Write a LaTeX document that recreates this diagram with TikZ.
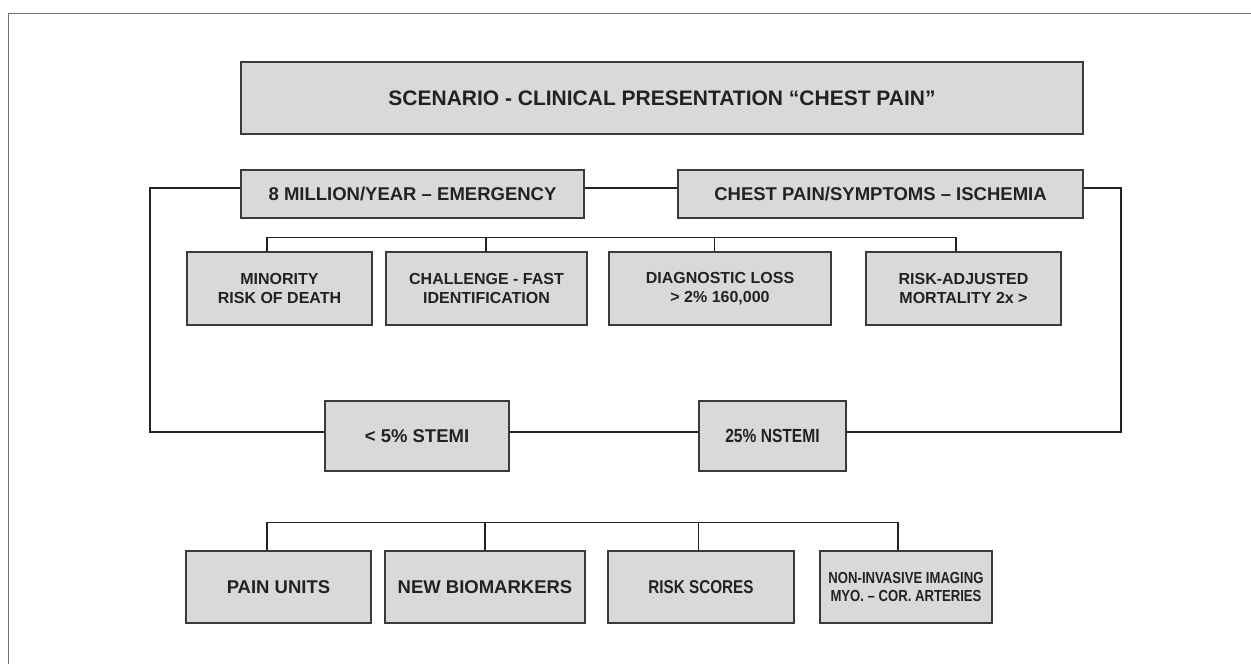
\documentclass[tikz,border=0pt]{standalone}
\usepackage{fontspec}
\setmainfont{Liberation Sans}
\newfontfamily\narrowsans{Liberation Sans}[FakeStretch=0.82]
\usetikzlibrary{positioning}
\definecolor{boxfill}{HTML}{D9D9D9}
\definecolor{boxline}{HTML}{3A3A3A}
\definecolor{ink}{HTML}{222222}
\definecolor{framegray}{HTML}{707070}
\tikzset{
  box/.style={draw=boxline, fill=boxfill, line width=1.4pt, text=ink,
    align=center, inner sep=0pt},
  link/.style={draw=ink, line width=1.3pt},
  bigtxt/.style={font=\fontsize{18.5}{22}\selectfont\bfseries},
  midtxt/.style={font=\fontsize{16}{19}\selectfont\bfseries},
  narrowtxt/.style={font=\fontsize{#1}{18.5}\selectfont\narrowsans\bfseries},
}
\begin{document}
\begin{tikzpicture}[x=1pt,y=-1pt]
  \useasboundingbox (0,0) rectangle (1251,664);
  % frame
  \draw[framegray, line width=1pt] (8,664) -- (8,13) -- (1251,13);

  % top
  \node[box, minimum width=842, minimum height=72, font=\fontsize{21}{25}\selectfont\bfseries]
    (scenario) at (662,98) {SCENARIO - CLINICAL PRESENTATION “CHEST PAIN”};
  \node[box, bigtxt, minimum width=343, minimum height=48] (emerg) at (412.5,194)
    {8 MILLION/YEAR – EMERGENCY};
  \node[box, bigtxt, minimum width=405, minimum height=48] (ischemia) at (880.5,194)
    {CHEST PAIN/SYMPTOMS – ISCHEMIA};

  % middle row
  \node[box, midtxt, minimum width=185, minimum height=73] (minority) at (279.5,288.5)
    {MINORITY\\RISK OF DEATH};
  \node[box, midtxt, minimum width=201, minimum height=73] (challenge) at (486.5,288.5)
    {CHALLENGE - FAST\\IDENTIFICATION};
  \node[box, midtxt, minimum width=222, minimum height=73] (loss) at (720,288.5)
    {DIAGNOSTIC LOSS\\> 2\% 160,000};
  \node[box, midtxt, minimum width=195, minimum height=73] (mortality) at (963.5,288.5)
    {RISK-ADJUSTED\\MORTALITY 2x >};

  % stemi / nstemi
  \node[box, bigtxt, minimum width=184, minimum height=70] (stemi) at (417,436)
    {< 5\% STEMI};
  \node[box, narrowtxt=19, minimum width=147, minimum height=70] (nstemi) at (772.5,436)
    {25\% NSTEMI};

  % bottom row
  \node[box, bigtxt, minimum width=185, minimum height=72] (units) at (278.5,587)
    {PAIN UNITS};
  \node[box, bigtxt, minimum width=200, minimum height=72] (markers) at (485,587)
    {NEW BIOMARKERS};
  \node[box, narrowtxt=18.6, minimum width=186, minimum height=72] (scores) at (701,587)
    {RISK SCORES};
  \node[box, narrowtxt=16, minimum width=172, minimum height=72] (imaging) at (906,587)
    {NON-INVASIVE IMAGING\\MYO. – COR. ARTERIES};

  % connectors
  \draw[link] ([yshift=6pt]emerg.east) -- ([yshift=6pt]ischemia.west);
  \draw[link] ([yshift=6pt]emerg.west) -| (150,432) -- ([yshift=4pt]stemi.west);
  \draw[link] ([yshift=6pt]ischemia.east) -| (1121,432) -- ([yshift=4pt]nstemi.east);
  \draw[link] ([yshift=4pt]stemi.east) -- ([yshift=4pt]nstemi.west);

  \draw[link] ([xshift=-12.5pt]minority.north) -- ++(0,-14) -| ([xshift=-7.5pt]mortality.north);
  \draw[link] ([xshift=-0.5pt]challenge.north) -- ++(0,-14);
  \draw[link, line width=0.9pt] ([xshift=-6pt]loss.north) -- ++(0,-14);

  \draw[link] ([xshift=-11.5pt]units.north) -- ++(0,-28) -| ([xshift=-8pt]imaging.north);
  \draw[link] (markers.north) -- ++(0,-28);
  \draw[link, line width=0.9pt] ([xshift=-3pt]scores.north) -- ++(0,-28);
\end{tikzpicture}
\end{document}
